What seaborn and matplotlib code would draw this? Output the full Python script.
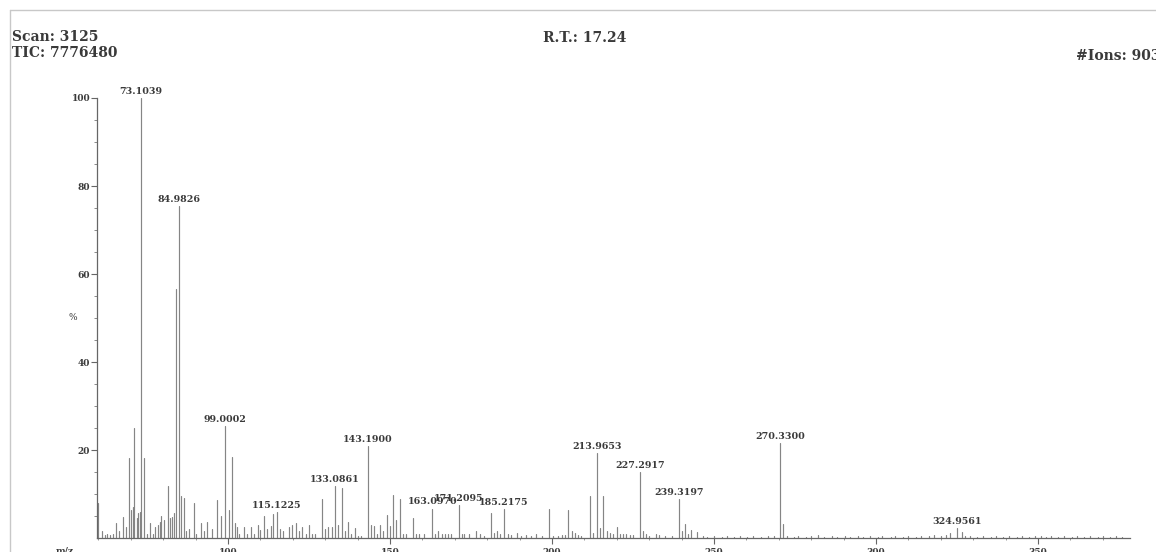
import numpy as np
import pandas as pd
import matplotlib
matplotlib.use("Agg")
import matplotlib.pyplot as plt
import seaborn as sns
from matplotlib.lines import Line2D

# ---------------- data ----------------
peak_mz = [
    60.0, 61.2, 62.0, 62.8, 63.6, 64.4, 65.6, 66.4, 67.6, 68.5,
    69.5, 70.2, 70.6, 71.1, 71.8, 72.4, 72.8, 73.1039, 74.2, 75.1,
    76.0, 76.9, 77.5, 78.3, 79.0, 79.5, 80.2, 81.4, 82.1, 82.6,
    83.3, 83.95, 84.9826, 85.6, 86.3, 87.2, 88.1, 89.4, 90.3, 91.6,
    92.7, 93.7, 95.0, 96.5, 98.0, 99.0002, 100.4, 101.4, 102.2, 102.7,
    103.5, 105.0, 105.8, 107.2, 108.0, 109.2, 110.0, 111.1, 112.0, 113.2,
    114.0, 115.1225, 116.0, 116.9, 118.9, 119.7, 120.9, 122.0, 122.9, 124.0,
    124.9, 126.0, 127.0, 129.1, 130.0, 131.0, 132.0, 133.0861, 134.0, 135.1,
    136.0, 137.1, 138.0, 139.2, 140.0, 141.0, 143.19, 144.3, 145.2, 146.0,
    146.9, 148.0, 149.0, 150.0, 151.0, 151.9, 153.1, 154.0, 155.0, 157.0,
    158.0, 159.0, 160.5, 163.097, 164.0, 164.9, 166.0, 167.0, 168.0, 169.0,
    171.2095, 172.3, 173.0, 174.5, 176.7, 177.7, 179.0, 181.2, 182.1, 183.0,
    184.0, 185.2175, 186.3, 187.5, 189.1, 190.6, 192.1, 193.6, 195.2, 197.0,
    199.1, 200.4, 201.8, 203.2, 204.0, 205.0, 206.1, 207.1, 208.1, 209.0,
    211.7, 212.7, 213.9653, 214.8, 215.8, 217.1, 217.9, 218.9, 220.1, 221.0,
    222.0, 223.0, 224.0, 225.0, 227.2917, 228.2, 229.0, 230.0, 232.1, 233.0,
    235.0, 237.0, 239.3197, 240.0, 241.1, 242.0, 242.9, 244.9, 246.5, 248.0,
    250.0, 252.5, 254.0, 256.3, 258.0, 260.2, 262.0, 264.5, 266.8, 268.5,
    270.33, 271.4, 272.5, 274.8, 276.0, 278.3, 280.0, 282.2, 284.0, 286.5,
    288.0, 290.4, 292.0, 294.6, 296.0, 298.2, 300.5, 302.0, 304.7, 306.0,
    308.2, 310.0, 312.5, 314.0, 316.3, 318.0, 320.2, 321.5, 322.8, 324.9561,
    326.4, 327.5, 329.0, 331.2, 333.0, 335.5, 337.0, 339.2, 341.0, 343.5,
    345.0, 347.2, 349.0, 350.8, 352.5, 354.0, 356.2, 358.0, 360.5, 362.0,
    364.3, 366.0, 368.5, 370.0, 372.2, 374.0, 376.0,
]
peak_intensity = [
    8.0, 1.5, 0.7, 0.8, 0.7, 0.8, 3.4, 1.5, 4.8, 2.6,
    18.1, 6.4, 7.0, 24.9, 4.5, 5.6, 6.0, 100.0, 18.2, 1.0,
    3.4, 0.8, 2.6, 3.0, 3.7, 5.0, 4.2, 11.8, 4.5, 4.8,
    5.6, 56.5, 75.5, 9.5, 9.0, 1.5, 2.0, 8.0, 1.0, 3.3,
    1.5, 3.7, 2.0, 8.6, 5.1, 25.5, 6.3, 18.5, 3.3, 2.5,
    1.0, 2.5, 1.0, 2.6, 1.0, 2.9, 1.8, 5.1, 2.0, 2.8,
    5.5, 5.8, 2.0, 1.5, 2.5, 2.9, 3.3, 1.5, 2.5, 1.0,
    2.9, 0.9, 0.9, 8.8, 2.0, 2.6, 2.6, 11.8, 3.0, 11.3,
    1.5, 3.6, 1.0, 2.3, 0.5, 0.5, 21.0, 3.0, 2.7, 1.0,
    2.9, 1.5, 5.3, 2.8, 9.8, 4.0, 8.8, 1.0, 1.0, 4.6,
    1.0, 0.8, 0.8, 6.7, 0.8, 1.5, 1.0, 1.0, 1.0, 1.0,
    7.5, 1.0, 0.8, 0.8, 1.5, 0.9, 0.5, 5.6, 1.2, 1.5,
    0.8, 6.5, 0.8, 0.6, 1.2, 0.5, 0.6, 0.5, 1.0, 0.4,
    6.5, 0.5, 0.5, 0.7, 0.7, 6.3, 1.7, 1.2, 0.6, 0.5,
    9.5, 1.2, 19.3, 2.2, 9.6, 1.5, 1.1, 1.0, 2.4, 1.0,
    0.8, 0.8, 0.7, 0.6, 15.0, 1.7, 1.0, 0.5, 0.8, 0.7,
    0.5, 0.5, 8.8, 1.5, 3.2, 0.9, 1.9, 1.4, 0.4, 0.3,
    0.4, 0.3, 0.4, 0.3, 0.5, 0.3, 0.4, 0.3, 0.5, 0.4,
    21.5, 3.2, 0.4, 0.3, 0.5, 0.3, 0.4, 0.6, 0.3, 0.4,
    0.3, 0.5, 0.3, 0.4, 0.3, 0.5, 0.3, 0.4, 0.3, 0.5,
    0.3, 0.4, 0.3, 0.5, 0.4, 0.6, 0.4, 0.7, 1.2, 2.2,
    1.4, 0.5, 0.4, 0.3, 0.5, 0.3, 0.4, 0.3, 0.5, 0.3,
    0.4, 0.3, 0.5, 0.4, 0.3, 0.5, 0.3, 0.4, 0.3, 0.5,
    0.3, 0.4, 0.3, 0.5, 0.3, 0.4, 0.3,
]
label_mz = [73.1039, 84.9826, 99.0002, 115.1225, 133.0861, 143.19, 163.097,
            171.2095, 185.2175, 213.9653, 227.2917, 239.3197, 270.33, 324.9561]

y_ticks = [20, 40, 60, 80, 100]
x_ticks = [100, 150, 200, 250, 300, 350]

header_scan = "Scan: 3125"
header_tic = "TIC: 7776480"
header_rt = "R.T.: 17.24"
header_ions = "#Ions: 903"

# ---------------- style ----------------
sns.set_theme(style="white")
SERIF = ["DejaVu Serif", "Liberation Serif"]
plt.rcParams["font.family"] = SERIF
TXT = "#3a3a3a"
PEAK = "#858585"

W, H = 1156, 552
fig = plt.figure(figsize=(W / 100, H / 100), dpi=100)
fig.patch.set_facecolor("white")

ax_l, ax_r, ax_b, ax_t = 97, 1130, 538, 98
ax = fig.add_axes([ax_l / W, 1 - ax_b / H, (ax_r - ax_l) / W, (ax_b - ax_t) / H])

rows = []
for i, (m, h) in enumerate(zip(peak_mz, peak_intensity)):
    rows.append({"mz": m, "h": 0.0, "peak": i})
    rows.append({"mz": m, "h": h, "peak": i})
df = pd.DataFrame(rows)

sns.lineplot(data=df, x="mz", y="h", units="peak", estimator=None, sort=False,
             color=PEAK, linewidth=0.85, ax=ax, legend=False)

ax.set_xlim(59.6, 378.4)
ax.set_ylim(0, 100)
ax.set_xlabel("")
ax.set_ylabel("")
for s in ["top", "right"]:
    ax.spines[s].set_visible(False)
for s in ["left", "bottom"]:
    ax.spines[s].set_color("#666666")
    ax.spines[s].set_linewidth(0.9)
ax.patch.set_alpha(0)

ax.set_yticks(y_ticks)
ax.set_yticks(np.arange(5, 100, 5), minor=True)
ax.set_xticks(x_ticks)
ax.set_xticks(np.arange(60, 380, 10), minor=True)
ax.tick_params(axis="y", which="major", direction="out", length=4.5, width=0.8,
               color="#666666", pad=0.5, labelsize=6.5, labelcolor=TXT, left=True)
ax.tick_params(axis="y", which="minor", direction="out", length=2, width=0.6,
               color="#777777", left=True)
ax.tick_params(axis="x", which="major", direction="out", length=4, width=0.8,
               color="#666666", pad=3, labelsize=6.5, labelcolor=TXT, bottom=True)
ax.tick_params(axis="x", which="minor", direction="out", length=1.5, width=0.6,
               color="#888888", bottom=True)
for lab in ax.get_xticklabels() + ax.get_yticklabels():
    lab.set_fontweight("bold")
    lab.set_family(SERIF)

# peak labels
mz_arr = np.array(peak_mz)
for m in label_mz:
    idx = int(np.argmin(np.abs(mz_arr - m)))
    ax.annotate(f"{m:.4f}", xy=(peak_mz[idx], peak_intensity[idx]), xytext=(0, 1.5),
                textcoords="offset points", ha="center", va="bottom",
                fontsize=6.8, fontweight="bold", color=TXT, family=SERIF,
                annotation_clip=False)

# header and axis captions
def ftext(x, y, s, size, weight="bold", **kw):
    fig.text(x / W, 1 - y / H, s, color=TXT, family=SERIF, fontweight=weight,
             fontsize=size, **kw)

ftext(12, 37, header_scan, 10, ha="left", va="center")
ftext(12, 53, header_tic, 10, ha="left", va="center")
ftext(585, 38, header_rt, 10, ha="center", va="center")
ftext(1076, 56, header_ions, 10, ha="left", va="center")
ftext(73, 318, "%", 6.5, weight="normal", ha="center", va="center")
ftext(65, 546, "m/z", 6.5, ha="center", va="top")

# scanned page frame
fig.add_artist(Line2D([10 / W, 1.0], [1 - 10 / H, 1 - 10 / H], color="#c8c8c8", lw=1.0))
fig.add_artist(Line2D([10 / W, 10 / W], [1 - 10 / H, 0.0], color="#c8c8c8", lw=1.0))

fig.savefig("out.png", dpi=100, facecolor="white")
